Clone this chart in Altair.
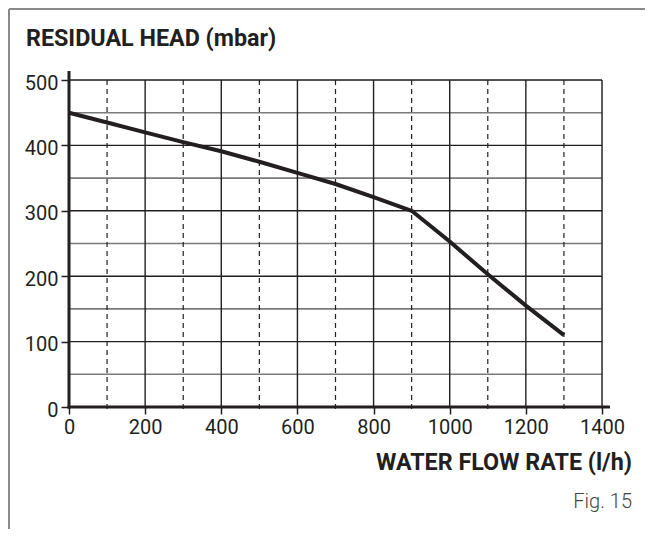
import altair as alt
import pandas as pd

# ---- data ----
flow = [0, 100, 200, 300, 400, 500, 600, 700, 800, 900, 1000, 1100, 1200, 1300]
head = [450, 435, 420, 405, 391, 375, 358, 341, 321, 300, 253, 203, 155, 110]

x_ticks = [0, 200, 400, 600, 800, 1000, 1200, 1400]
y_ticks = [0, 100, 200, 300, 400, 500]
h_major = [100, 200, 300, 400, 500]
h_minor = [50, 150, 250, 350, 450]
v_major = [200, 400, 600, 800, 1000, 1200, 1400]
v_minor = [100, 300, 500, 700, 900, 1100, 1300]

y_title = "RESIDUAL HEAD (mbar)"
x_title = "WATER FLOW RATE (l/h)"
fig_label = "Fig. 15"

FONT = "Roboto"
INK = "#231f20"
W, H = 533, 327

xs = alt.Scale(domain=[0, 1400], nice=False, zero=False)
ys = alt.Scale(domain=[0, 500], nice=False, zero=False)

curve_df = pd.DataFrame({"flow": flow, "head": head})

base = alt.Chart(curve_df)

hmaj = alt.Chart(pd.DataFrame({"y": h_major})).mark_rule(color=INK, strokeWidth=1.4).encode(
    y=alt.Y("y:Q", scale=ys), x=alt.value(0), x2=alt.value(W))
hmin = alt.Chart(pd.DataFrame({"y": h_minor})).mark_rule(color="#7a7a7a", strokeWidth=1.6).encode(
    y=alt.Y("y:Q", scale=ys), x=alt.value(0), x2=alt.value(W))
vmaj = alt.Chart(pd.DataFrame({"x": v_major})).mark_rule(color=INK, strokeWidth=1.4).encode(
    x=alt.X("x:Q", scale=xs), y=alt.value(0), y2=alt.value(H))
vmin = alt.Chart(pd.DataFrame({"x": v_minor})).mark_rule(color=INK, strokeWidth=1.2, strokeDash=[5, 4]).encode(
    x=alt.X("x:Q", scale=xs), y=alt.value(0), y2=alt.value(H + 4))

curve = base.mark_line(color=INK, strokeWidth=4, strokeCap="butt", strokeJoin="round").encode(
    x=alt.X("flow:Q", scale=xs,
            axis=alt.Axis(values=x_ticks, title=None, domain=False, grid=False, format="d",
                          tickSize=7, tickWidth=1.5, tickColor=INK,
                          labelFont=FONT, labelFontSize=20, labelColor=INK,
                          labelPadding=3, labelFlush=False)),
    y=alt.Y("head:Q", scale=ys,
            axis=alt.Axis(values=y_ticks, title=None, domain=False, grid=False, format="d",
                          tickSize=8, tickWidth=1.5, tickColor=INK,
                          labelFont=FONT, labelFontSize=20, labelColor=INK,
                          labelPadding=3, labelOffset=3, labelFlush=False)),
)

# axis lines (thick), extending past the plot area as in the figure
xaxis = alt.Chart(pd.DataFrame({"y": [0]})).mark_rule(color=INK, strokeWidth=3).encode(
    y=alt.Y("y:Q", scale=ys), x=alt.value(-1.5), x2=alt.value(W + 8))
yaxis = alt.Chart(pd.DataFrame({"x": [0]})).mark_rule(color=INK, strokeWidth=3).encode(
    x=alt.X("x:Q", scale=xs), y=alt.value(-9), y2=alt.value(H + 1.5))

# outer frame (top and left)
frame_top = alt.Chart(pd.DataFrame({"a": [0]})).mark_rule(color="#8a8a8a", strokeWidth=2).encode(
    x=alt.value(-60), x2=alt.value(W + 60), y=alt.value(-71))
frame_left = alt.Chart(pd.DataFrame({"a": [0]})).mark_rule(color="#8a8a8a", strokeWidth=2).encode(
    x=alt.value(-60), y=alt.value(-71), y2=alt.value(H + 140))

ytitle = alt.Chart(pd.DataFrame({"t": [y_title]})).mark_text(
    font=FONT, fontSize=23.3, fontWeight="bold", color=INK, align="left", baseline="alphabetic").encode(
    text="t:N", x=alt.value(-43), y=alt.value(-34))
xtitle = alt.Chart(pd.DataFrame({"t": [x_title]})).mark_text(
    font=FONT, fontSize=23.3, fontWeight="bold", color=INK, align="right", baseline="alphabetic").encode(
    text="t:N", x=alt.value(563), y=alt.value(390))
figl = alt.Chart(pd.DataFrame({"t": [fig_label]})).mark_text(
    font=FONT, fontSize=20, fontWeight=300, color="#444444", align="right", baseline="alphabetic").encode(
    text="t:N", x=alt.value(563), y=alt.value(428))

chart = alt.layer(
    hmin, hmaj, vmin, vmaj, curve, xaxis, yaxis, frame_top, frame_left, ytitle, xtitle, figl
).properties(
    width=W, height=H,
    autosize=alt.AutoSizeParams(type="none"),
    padding={"left": 61, "top": 72, "right": 43, "bottom": 122},
).configure_view(stroke=None).configure(background="white")

chart.save("out.html", embed_options={"renderer": "svg", "actions": False})
